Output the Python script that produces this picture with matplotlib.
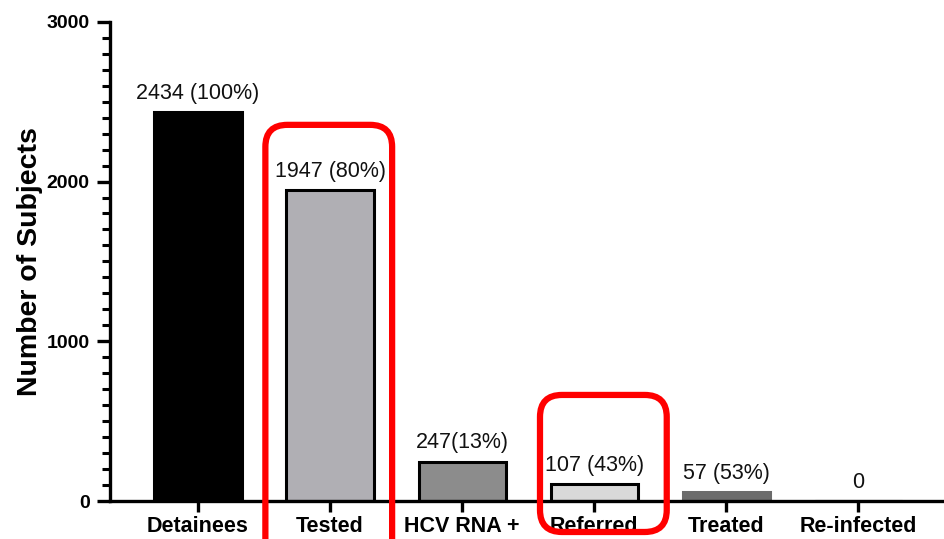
import matplotlib
matplotlib.use("Agg")
import matplotlib.pyplot as plt
from matplotlib.patches import FancyBboxPatch
from matplotlib.ticker import MultipleLocator
from matplotlib.transforms import IdentityTransform

plt.rcParams["font.family"] = ["Liberation Sans", "DejaVu Sans"]

# Cascade of care data
stages = ["Detainees", "Tested", "HCV RNA +", "Referred", "Treated", "Re-infected"]
counts = [2434, 1947, 247, 107, 57, 0]
value_labels = ["2434 (100%)", "1947 (80%)", "247(13%)", "107 (43%)", "57 (53%)", "0"]
bar_colors = ["#000000", "#b0afb4", "#8c8c8c", "#d9d9d9", "#6b6b6b", "#6b6b6b"]
edge_colors = ["#000000", "#000000", "#000000", "#000000", "#6b6b6b", "#000000"]
highlighted = ["Tested", "Referred"]

fig = plt.figure(figsize=(9.44, 5.39), dpi=100)
ax = fig.add_axes([0.1165, 0.0705, 0.8835, 0.889])

x = list(range(len(stages)))
bars = ax.bar(x, counts, width=0.66, color=bar_colors, edgecolor=edge_colors,
              linewidth=2.2, zorder=2)

for xi, c, lab in zip(x, counts, value_labels):
    ax.annotate(lab, (xi, c), xytext=(0, 6), textcoords="offset points",
                ha="center", va="bottom", fontsize=15.5, color="#111111")

ax.set_xlim(-0.667, 5.65)
ax.set_ylim(0, 3000)
ax.yaxis.set_major_locator(MultipleLocator(1000))
ax.yaxis.set_minor_locator(MultipleLocator(100))
ax.set_xticks(x)
ax.set_xticklabels(stages, fontsize=15.5, fontweight="bold")
for t in ax.get_yticklabels():
    t.set_fontweight("bold")
    t.set_fontsize(14)

for side in ("top", "right"):
    ax.spines[side].set_visible(False)
for side in ("left", "bottom"):
    ax.spines[side].set_linewidth(2.4)

ax.tick_params(axis="y", which="major", length=9.5, width=2.4, pad=5)
ax.tick_params(axis="y", which="minor", length=6, width=2.2)
ax.tick_params(axis="x", which="major", length=8, width=2.4, pad=3)

ax.set_ylabel("Number of Subjects", fontsize=20.5, fontweight="bold", labelpad=3)

# Red rounded frames around highlighted stages (drawn in pixel space)
fig.canvas.draw()
frame_extents = {"Tested": (-0.49, 0.47, 2355, -400), "Referred": (-0.41, 0.55, 664, -194)}
for name in highlighted:
    i = stages.index(name)
    dx0, dx1, ytop, ybot = frame_extents[name]
    (px0, py0) = ax.transData.transform((i + dx0, ybot))
    (px1, py1) = ax.transData.transform((i + dx1, ytop))
    box = FancyBboxPatch((px0, py0), px1 - px0, py1 - py0,
                         boxstyle="round,pad=0,rounding_size=22",
                         transform=IdentityTransform(), fill=False,
                         edgecolor="#ff0000", linewidth=4.5, zorder=5)
    fig.patches.append(box)

fig.savefig("out.png", dpi=100)
